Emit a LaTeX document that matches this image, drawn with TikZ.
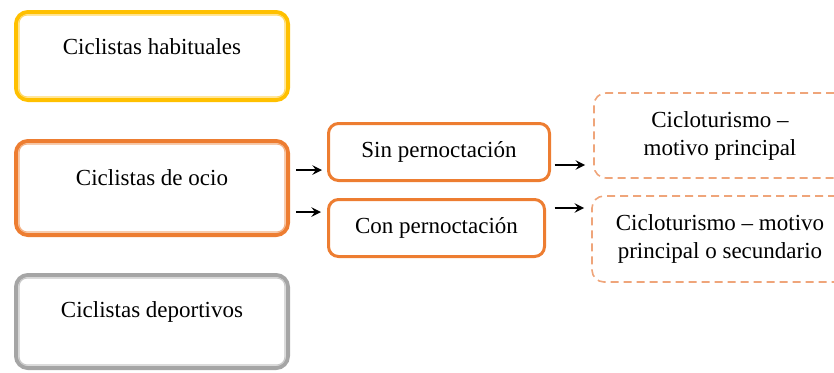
\documentclass[tikz,border=0pt]{standalone}
\usepackage{fontspec}
\setmainfont{Liberation Serif}
\usetikzlibrary{shapes,arrows,positioning}

\definecolor{oro}{HTML}{FFC000}
\definecolor{naranja}{HTML}{ED7D31}
\definecolor{gris}{HTML}{A5A5A5}
\definecolor{salmon}{HTML}{EFA57A}

\begin{document}
\begin{tikzpicture}[x=0.5pt, y=-0.5pt, >=stealth,
    every node/.style={font=\fontsize{11.5}{14}\selectfont},
    tipo/.style={draw=#1, line width=2pt, rounded corners=6pt, fill=white,
        minimum width=136pt, text height=8pt},
    viaje/.style={draw=naranja, line width=1.5pt, rounded corners=5pt,
        minimum height=28.5pt},
    motivo/.style={draw=salmon, line width=0.8pt, dash pattern=on 4pt off 2.5pt,
        rounded corners=6pt, align=center},
    flecha/.style={->, line width=1.1pt}]

    \useasboundingbox (0,0) rectangle (834,372);

    % Tipos de ciclistas
    \node[tipo=oro, minimum height=44pt, text depth=9.4pt] (hab) at (152,56) {Ciclistas habituales};
    \node[tipo=naranja, minimum height=47pt, text depth=10.4pt] (ocio) at (152,188) {Ciclistas de ocio};
    \node[tipo=gris, minimum height=46.5pt, text depth=12.4pt] (dep) at (152,321.5) {Ciclistas deportivos};

    % Linea interior de los marcos
    \foreach \n/\c in {hab/oro, ocio/naranja, dep/gris}
        \draw[\c!60, line width=0.6pt, rounded corners=4pt]
            ([shift={(5,5)}]\n.north west) rectangle ([shift={(-5,-5)}]\n.south east);

    % Pernoctacion
    \node[viaje, minimum width=110.5pt] (sin) at (439,152) {Sin pernoctación};
    \node[viaje, minimum width=108pt] (con) at (436.5,228) {Con pernoctación};

    % Motivo del viaje
    \node[motivo, minimum width=126pt, minimum height=42.5pt] (mot1) at (720,135.5) {Cicloturismo --\\motivo principal};
    \node[motivo, minimum width=128pt, minimum height=43pt] (mot2) at (720,239) {Cicloturismo -- motivo\\principal o secundario};

    % Flechas
    \draw[flecha] ([xshift=3pt, yshift=9pt]ocio.east) -- ([xshift=-2.5pt, yshift=9pt]ocio.east -| sin.west);
    \draw[flecha] ([xshift=3pt, yshift=-12pt]ocio.east) -- ([xshift=-3pt, yshift=-12pt]ocio.east -| con.west);
    \draw[flecha] ([xshift=1.75pt, yshift=-6.5pt]sin.east) -- ([xshift=-4pt, yshift=-6.5pt]sin.east -| mot1.west);
    \draw[flecha] ([xshift=4.25pt, yshift=10pt]con.east) -- ([xshift=-3.5pt, yshift=10pt]con.east -| mot2.west);

\end{tikzpicture}
\end{document}
